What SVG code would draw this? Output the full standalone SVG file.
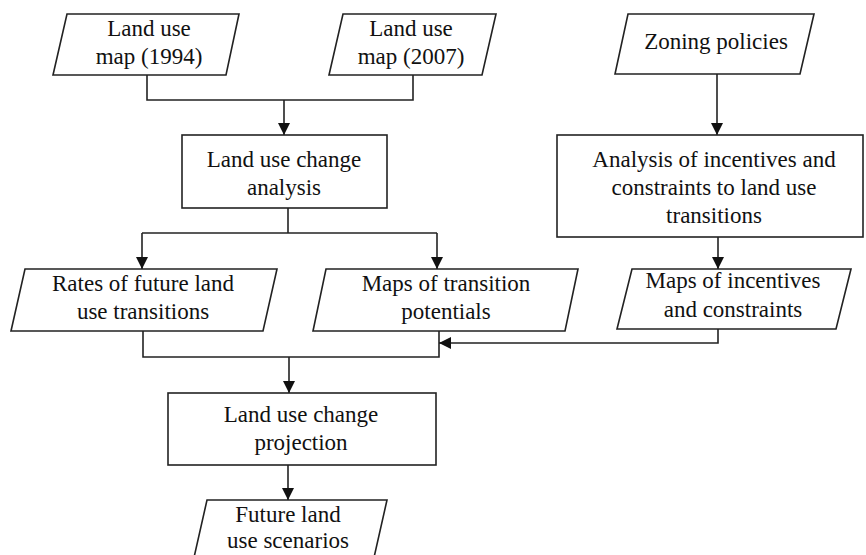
<svg xmlns="http://www.w3.org/2000/svg" width="866" height="555" viewBox="0 0 866 555">
<style>
.s{fill:#fff;stroke:#222;stroke-width:1.6}
.t{font-family:"Liberation Serif","Times New Roman",serif;font-size:23px;fill:#111;text-anchor:middle}
.c{fill:none;stroke:#222;stroke-width:1.6}
</style>
<defs>
<marker id="a" markerUnits="userSpaceOnUse" markerWidth="12" markerHeight="12" refX="12" refY="6" orient="auto">
<path d="M0,0 L12,6 L0,12 z" fill="#111"/>
</marker>
</defs>
<rect width="866" height="555" fill="#fff"/>
<g id="connectors">
<path class="c" d="M147,75 V100 H413 V75"/>
<path class="c" d="M284,100 V135" marker-end="url(#a)"/>
<path class="c" d="M717,74 V135" marker-end="url(#a)"/>
<path class="c" d="M288,208 V233"/>
<path class="c" d="M142,233 H437"/>
<path class="c" d="M142,233 V269" marker-end="url(#a)"/>
<path class="c" d="M437,233 V269" marker-end="url(#a)"/>
<path class="c" d="M718,237 V269" marker-end="url(#a)"/>
<path class="c" d="M143,331 V357 H439 V331"/>
<path class="c" d="M718,329 V343 H439" marker-end="url(#a)"/>
<path class="c" d="M289,357 V393" marker-end="url(#a)"/>
<path class="c" d="M288,465 V500" marker-end="url(#a)"/>
</g>
<g id="map1994">
<polygon class="s" points="67,14 239,14 226,75 53,75"/>
<text class="t" x="149" y="36">Land use</text>
<text class="t" x="149" y="64">map (1994)</text>
</g>
<g id="map2007">
<polygon class="s" points="343,14 496,14 482,75 329,75"/>
<text class="t" x="411" y="36">Land use</text>
<text class="t" x="411" y="64">map (2007)</text>
</g>
<g id="zoning">
<polygon class="s" points="628,14 814,14 800,74 615,74"/>
<text class="t" x="716" y="49">Zoning policies</text>
</g>
<g id="lucAnalysis">
<rect class="s" x="182" y="135" width="205" height="73"/>
<text class="t" x="284" y="167">Land use change</text>
<text class="t" x="284" y="195">analysis</text>
</g>
<g id="incentivesAnalysis">
<rect class="s" x="557" y="135" width="306" height="102"/>
<text class="t" x="714" y="167">Analysis of incentives and</text>
<text class="t" x="714" y="195">constraints to land use</text>
<text class="t" x="714" y="223">transitions</text>
</g>
<g id="rates">
<polygon class="s" points="25,269 277,269 263,331 11,331"/>
<text class="t" x="143" y="291">Rates of future land</text>
<text class="t" x="143" y="319">use transitions</text>
</g>
<g id="transitionMaps">
<polygon class="s" points="326,269 578,269 565,331 313,331"/>
<text class="t" x="446" y="291">Maps of transition</text>
<text class="t" x="446" y="319">potentials</text>
</g>
<g id="incentiveMaps">
<polygon class="s" points="632,269 851,269 836,329 617,329"/>
<text class="t" x="733" y="288">Maps of incentives</text>
<text class="t" x="733" y="317">and constraints</text>
</g>
<g id="projection">
<rect class="s" x="168" y="393" width="268" height="72"/>
<text class="t" x="301" y="422">Land use change</text>
<text class="t" x="301" y="450">projection</text>
</g>
<g id="scenarios">
<polygon class="s" points="207,500 387,500 373,562 193,562"/>
<text class="t" x="288" y="522">Future land</text>
<text class="t" x="288" y="548">use scenarios</text>
</g>
</svg>
